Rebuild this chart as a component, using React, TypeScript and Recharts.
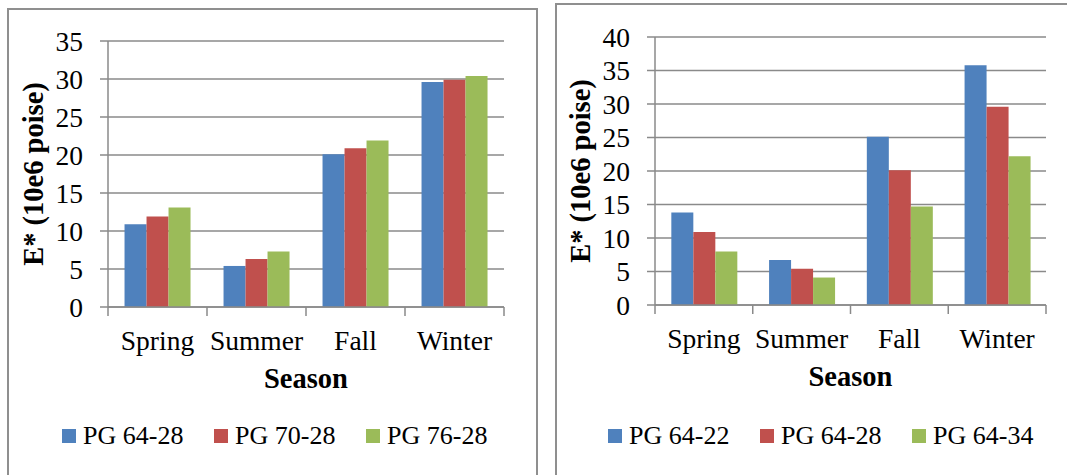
import React from 'react';
import { BarChart, Bar, XAxis, YAxis, CartesianGrid, Legend } from 'recharts';

const SEASONS = ['Spring', 'Summer', 'Fall', 'Winter'];

const LEFT_SERIES = ['PG 64-28', 'PG 70-28', 'PG 76-28'];
const LEFT_PG6428 = [10.9, 5.4, 20.1, 29.6];
const LEFT_PG7028 = [11.9, 6.3, 20.9, 29.9];
const LEFT_PG7628 = [13.1, 7.3, 21.9, 30.4];
const LEFT_TICKS = [0, 5, 10, 15, 20, 25, 30, 35];

const RIGHT_SERIES = ['PG 64-22', 'PG 64-28', 'PG 64-34'];
const RIGHT_PG6422 = [13.8, 6.7, 25.1, 35.8];
const RIGHT_PG6428 = [10.9, 5.4, 20.1, 29.6];
const RIGHT_PG6434 = [8.0, 4.1, 14.7, 22.2];
const RIGHT_TICKS = [0, 5, 10, 15, 20, 25, 30, 35, 40];

const COLORS = ['#4F81BD', '#C0504D', '#9BBB59'];
const GRID = '#8a8a8a';
const FONT = '"Liberation Serif", "Times New Roman", serif';
const HEIGHT = 475;

function buildRows(series: string[], values: number[][]) {
  return SEASONS.map((season, i) => {
    const row: Record<string, string | number> = { season };
    series.forEach((name, s) => {
      row[name] = values[s][i];
    });
    return row;
  });
}

// category labels in the middle, tick marks on the category edges (Excel style)
function SeasonTick(props: any) {
  const { x, y, payload, index, visibleTicksCount, width } = props;
  const half = width / visibleTicksCount / 2;
  return (
    <g>
      <line x1={x - half} x2={x - half} y1={y} y2={y + 9} stroke={GRID} strokeWidth={1.5} />
      {index === visibleTicksCount - 1 && (
        <line x1={x + half} x2={x + half} y1={y} y2={y + 9} stroke={GRID} strokeWidth={1.5} />
      )}
      <text x={x} y={y + 43} textAnchor="middle" fontFamily={FONT} fontSize={27.5} fill="#000">
        {payload.value}
      </text>
    </g>
  );
}

function YTitle(props: any) {
  const { viewBox } = props;
  const cx = viewBox.x + 25;
  const cy = viewBox.y + viewBox.height / 2;
  return (
    <text
      x={cx}
      y={cy}
      transform={`rotate(-90 ${cx} ${cy})`}
      textAnchor="middle"
      dominantBaseline="central"
      fontFamily={FONT}
      fontWeight="bold"
      fontSize={28.5}
      fill="#000"
    >
      E* (10e6 poise)
    </text>
  );
}

function XTitle(props: any) {
  const { viewBox } = props;
  return (
    <text
      x={viewBox.x + viewBox.width / 2}
      y={viewBox.y + 81}
      textAnchor="middle"
      fontFamily={FONT}
      fontWeight="bold"
      fontSize={28.5}
      fill="#000"
    >
      Season
    </text>
  );
}

function LegendRow(props: any) {
  const { payload, startX } = props;
  return (
    <div style={{ display: 'flex', alignItems: 'center', paddingLeft: startX, height: 26 }}>
      {payload.map((entry: any) => (
        <div key={entry.value} style={{ display: 'flex', alignItems: 'center', width: 152 }}>
          <span style={{ display: 'inline-block', width: 14, height: 14, background: entry.color, marginRight: 7 }} />
          <span style={{ fontFamily: FONT, fontSize: 26, lineHeight: '26px', color: '#000', whiteSpace: 'nowrap' }}>
            {entry.value}
          </span>
        </div>
      ))}
    </div>
  );
}

interface SeasonChartProps {
  width: number;
  series: string[];
  values: number[][];
  ticks: number[];
  margin: { top: number; right: number; left: number };
  plotBottom: number;
  legendX: number;
}

function SeasonChart({ width, series, values, ticks, margin, plotBottom, legendX }: SeasonChartProps) {
  const rows = buildRows(series, values);
  const max = ticks[ticks.length - 1];
  return (
    <BarChart
      width={width}
      height={HEIGHT}
      data={rows}
      margin={{ top: margin.top, right: margin.right, left: margin.left, bottom: 0 }}
      barCategoryGap="16.7%"
      barGap={0}
    >
      <CartesianGrid vertical={false} stroke={GRID} strokeWidth={1.5} />
      <XAxis
        dataKey="season"
        height={HEIGHT - plotBottom}
        axisLine={{ stroke: GRID, strokeWidth: 1.5 }}
        tickLine={false}
        tickSize={0}
        tickMargin={0}
        tick={<SeasonTick />}
        interval={0}
        label={<XTitle />}
      />
      <YAxis
        width={100}
        domain={[0, max]}
        ticks={ticks}
        interval={0}
        axisLine={{ stroke: GRID, strokeWidth: 1.5 }}
        tickLine={{ stroke: GRID, strokeWidth: 1.5 }}
        tickSize={8}
        tickMargin={17}
        tick={{ fontFamily: FONT, fontSize: 27.5, fill: '#000' }}
        label={<YTitle />}
      />
      <Legend
        layout="horizontal"
        verticalAlign="middle"
        align="center"
        wrapperStyle={{ top: 423, left: 0, width: width }}
        content={(p: any) => <LegendRow payload={p.payload} startX={legendX} />}
      />
      {series.map((name, i) => (
        <Bar key={name} dataKey={name} fill={COLORS[i]} isAnimationActive={false} />
      ))}
    </BarChart>
  );
}

export default function App() {
  return (
    <div
      style={{
        position: 'absolute',
        left: 0,
        top: 0,
        width: 1067,
        height: HEIGHT,
        overflow: 'hidden',
        background: '#fff',
      }}
    >
      <div
        style={{
          position: 'absolute',
          left: 7,
          top: 8,
          width: 531,
          height: 520,
          border: '2px solid #8f8f8f',
          boxSizing: 'border-box',
        }}
      />
      <div
        style={{
          position: 'absolute',
          left: 555,
          top: 3,
          width: 540,
          height: 520,
          border: '2px solid #8f8f8f',
          boxSizing: 'border-box',
        }}
      />
      <div style={{ position: 'absolute', left: 0, top: 0 }}>
        <SeasonChart
          width={540}
          series={LEFT_SERIES}
          values={[LEFT_PG6428, LEFT_PG7028, LEFT_PG7628]}
          ticks={LEFT_TICKS}
          margin={{ top: 41, right: 36, left: 8 }}
          plotBottom={307}
          legendX={62}
        />
      </div>
      <div style={{ position: 'absolute', left: 540, top: 0 }}>
        <SeasonChart
          width={527}
          series={RIGHT_SERIES}
          values={[RIGHT_PG6422, RIGHT_PG6428, RIGHT_PG6434]}
          ticks={RIGHT_TICKS}
          margin={{ top: 37, right: 21, left: 15 }}
          plotBottom={305}
          legendX={68}
        />
      </div>
    </div>
  );
}
